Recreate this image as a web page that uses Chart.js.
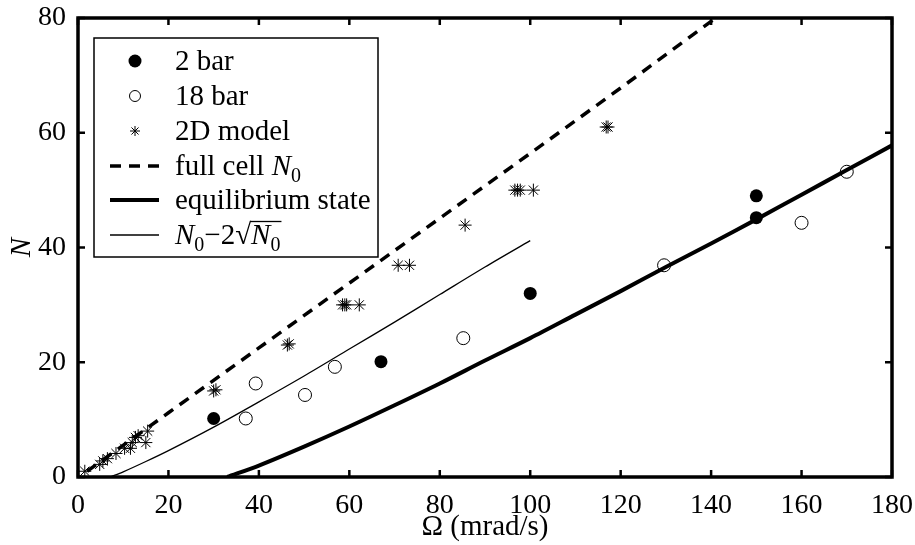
<!DOCTYPE html>
<html>
<head>
<meta charset="utf-8">
<script src="https://cdn.jsdelivr.net/npm/chart.js@4.4.1/dist/chart.umd.min.js"></script>
<style>
  html, body { margin: 0; padding: 0; background: #fff; }
  #wrap { width: 915px; height: 545px; }
</style>
</head>
<body>
<div id="wrap"><canvas id="c" width="915" height="545"></canvas></div>
<script>
// ---- data ----
const xTicks = [0, 20, 40, 60, 80, 100, 120, 140, 160, 180];
const yTicks = [0, 20, 40, 60, 80];

const bar2X = [30, 67, 100, 150, 150];
const bar2Y = [10.2, 20.1, 32.0, 49.0, 45.2];

const bar18X = [37.1, 39.3, 50.2, 56.8, 85.2, 129.6, 160, 170];
const bar18Y = [10.2, 16.3, 14.3, 19.2, 24.2, 36.9, 44.3, 53.2];

const model2dX = [1.5, 4.8, 5.5, 6.5, 8.4, 10.3, 11.6, 12.0, 12.7, 13.3, 15.0, 15.4,
                  30.0, 30.5, 46.3, 46.7, 58.5, 59.0, 59.4, 62.2, 70.8, 73.3, 85.6,
                  96.6, 97.2, 97.8, 100.7, 116.8, 117.2];
const model2dY = [1.0, 2.2, 2.8, 3.2, 4.1, 5.0, 5.0, 6.0, 6.9, 7.2, 6.0, 8.0,
                  15.0, 15.2, 23.0, 23.2, 30.0, 30.0, 30.0, 30.0, 36.9, 36.9, 43.9,
                  50.0, 50.0, 50.0, 50.0, 61.0, 61.0];

const fullCellX = [2, 20, 40, 60, 80, 100, 120, 141];
const fullCellY = [1.0, 11.2, 22.5, 33.8, 45.1, 56.4, 67.8, 80];

const eqX = [33, 40, 50, 60, 70, 80, 90, 100, 110, 120, 130, 140, 150, 160, 170, 180];
const eqY = [0, 2.0, 5.3, 8.8, 12.5, 16.3, 20.3, 24.2, 28.3, 32.4, 36.6, 40.7, 44.9, 49.2, 53.5, 57.8];

const thinX = [7.1, 10, 15, 20, 30, 40, 50, 60, 70, 80, 90, 100];
const thinY = [0, 0.9, 2.7, 4.6, 8.7, 13.1, 17.6, 22.3, 27.0, 31.8, 36.6, 41.2];

const pts = (xs, ys) => xs.map((x, i) => ({x: x, y: ys[i]}));

const SERIF = '"Liberation Serif", "Times New Roman", serif';
const FS = 28;   // tick labels
const LFS = 29;  // legend + titles

// frame with inward ticks on all four sides
const framePlugin = {
  id: 'frame',
  afterDatasetsDraw(chart) {
    const {ctx, chartArea: a, scales: {x, y}} = chart;
    ctx.save();
    ctx.strokeStyle = '#000';
    ctx.lineWidth = 2.5;
    ctx.lineCap = 'butt';
    const tl = 7;
    ctx.beginPath();
    xTicks.forEach(v => {
      const px = x.getPixelForValue(v);
      ctx.moveTo(px, a.bottom); ctx.lineTo(px, a.bottom - tl);
      ctx.moveTo(px, a.top); ctx.lineTo(px, a.top + tl);
    });
    yTicks.forEach(v => {
      const py = y.getPixelForValue(v);
      ctx.moveTo(a.left, py); ctx.lineTo(a.left + tl, py);
      ctx.moveTo(a.right, py); ctx.lineTo(a.right - tl, py);
    });
    ctx.stroke();
    ctx.lineWidth = 3.5;
    ctx.strokeRect(a.left, a.top, a.right - a.left, a.bottom - a.top);
    ctx.restore();
  }
};

// legend box drawn inside the plot
const legendPlugin = {
  id: 'boxLegend',
  afterDraw(chart) {
    const ctx = chart.ctx;
    const L = 94, T = 38, R = 378, B = 257;
    ctx.save();
    ctx.fillStyle = '#fff';
    ctx.fillRect(L, T, R - L, B - T);
    ctx.strokeStyle = '#000';
    ctx.lineWidth = 1.5;
    ctx.strokeRect(L, T, R - L, B - T);

    const sx0 = 110, sx1 = 159, sc = 135, tx = 175;
    const rows = [61, 96, 131, 166, 200, 235];
    const reg = LFS + 'px ' + SERIF;
    const ita = 'italic ' + LFS + 'px ' + SERIF;
    const sub = '20px ' + SERIF;
    const subDy = 7;

    function drawRich(parts, x, baseY) {
      let cx = x;
      parts.forEach(p => {
        if (p.sqrt) {
          ctx.font = reg;
          ctx.fillText('\u221A', cx, baseY);
          cx += ctx.measureText('\u221A').width;
          const startX = cx;
          ctx.font = ita;
          ctx.fillText('N', cx, baseY);
          cx += ctx.measureText('N').width;
          ctx.font = sub;
          ctx.fillText('0', cx, baseY + subDy);
          cx += ctx.measureText('0').width;
          ctx.save();
          ctx.lineWidth = 1.3;
          ctx.beginPath();
          ctx.moveTo(startX - 1, baseY - 22.5);
          ctx.lineTo(cx + 1, baseY - 22.5);
          ctx.stroke();
          ctx.restore();
          return;
        }
        ctx.font = p.i ? ita : (p.s ? sub : reg);
        ctx.fillText(p.t, cx, baseY + (p.s ? subDy : 0));
        cx += ctx.measureText(p.t).width;
      });
    }

    ctx.fillStyle = '#000';
    ctx.textBaseline = 'alphabetic';
    ctx.textAlign = 'left';

    // 2 bar
    ctx.beginPath(); ctx.arc(sc, rows[0], 6.5, 0, Math.PI * 2); ctx.fill();
    // 18 bar
    ctx.lineWidth = 1;
    ctx.beginPath(); ctx.arc(sc, rows[1], 5.5, 0, Math.PI * 2); ctx.stroke();
    // 2D model star
    ctx.beginPath();
    const r = 5;
    for (let k = 0; k < 4; k++) {
      const ang = k * Math.PI / 4;
      ctx.moveTo(sc - r * Math.cos(ang), rows[2] - r * Math.sin(ang));
      ctx.lineTo(sc + r * Math.cos(ang), rows[2] + r * Math.sin(ang));
    }
    ctx.stroke();
    // dashed
    ctx.lineWidth = 3.5;
    ctx.setLineDash([11, 8]);
    ctx.beginPath(); ctx.moveTo(sx0, rows[3]); ctx.lineTo(sx1 + 4, rows[3]); ctx.stroke();
    ctx.setLineDash([]);
    // thick
    ctx.lineWidth = 4;
    ctx.beginPath(); ctx.moveTo(sx0, rows[4]); ctx.lineTo(sx1, rows[4]); ctx.stroke();
    // thin
    ctx.lineWidth = 1.3;
    ctx.beginPath(); ctx.moveTo(sx0, rows[5]); ctx.lineTo(sx1, rows[5]); ctx.stroke();

    const off = 9;
    drawRich([{t: '2 bar'}], tx, rows[0] + off);
    drawRich([{t: '18 bar'}], tx, rows[1] + off);
    drawRich([{t: '2D model'}], tx, rows[2] + off);
    drawRich([{t: 'full cell '}, {t: 'N', i: true}, {t: '0', s: true}], tx, rows[3] + off);
    drawRich([{t: 'equilibrium state'}], tx, rows[4] + off);
    drawRich([{t: 'N', i: true}, {t: '0', s: true}, {t: '\u22122'}, {sqrt: true}], tx, rows[5] + off);
    ctx.restore();
  }
};

new Chart(document.getElementById('c'), {
  type: 'scatter',
  data: {
    datasets: [
      { label: 'full cell N0', data: pts(fullCellX, fullCellY), showLine: true,
        borderColor: '#000', borderWidth: 3.5, borderDash: [11, 8], pointRadius: 0, fill: false },
      { label: 'equilibrium state', data: pts(eqX, eqY), showLine: true,
        borderColor: '#000', borderWidth: 4, pointRadius: 0, fill: false, tension: 0.3 },
      { label: 'N0-2sqrt(N0)', data: pts(thinX, thinY), showLine: true,
        borderColor: '#000', borderWidth: 1.3, pointRadius: 0, fill: false, tension: 0.3 },
      { label: '2 bar', data: pts(bar2X, bar2Y), showLine: false,
        pointStyle: 'circle', pointRadius: 6.5, backgroundColor: '#000', borderColor: '#000', borderWidth: 0 },
      { label: '18 bar', data: pts(bar18X, bar18Y), showLine: false,
        pointStyle: 'circle', pointRadius: 6.5, backgroundColor: 'rgba(0,0,0,0)', borderColor: '#000', borderWidth: 1 },
      { label: '2D model', data: pts(model2dX, model2dY), showLine: false,
        pointStyle: 'star', pointRadius: 6.5, backgroundColor: '#000', borderColor: '#000', borderWidth: 1 }
    ]
  },
  options: {
    responsive: false,
    animation: false,
    devicePixelRatio: 1,
    layout: { padding: { top: 18, right: 23, left: 0, bottom: 0 } },
    plugins: { legend: { display: false }, tooltip: { enabled: false } },
    scales: {
      x: {
        type: 'linear', min: 0, max: 180,
        afterBuildTicks: s => { s.ticks = xTicks.map(v => ({value: v})); },
        afterFit: s => { s.height = 68; s.paddingLeft = 0; s.paddingRight = 0; },
        grid: { display: false }, border: { display: false },
        ticks: { color: '#000', font: { family: SERIF, size: FS }, padding: 4, autoSkip: false, maxRotation: 0 },
        title: { display: true, text: '\u03A9 (mrad/s)', color: '#000',
                 font: { family: SERIF, size: LFS }, padding: { top: 0, bottom: 0 } }
      },
      y: {
        type: 'linear', min: 0, max: 80,
        afterBuildTicks: s => { s.ticks = yTicks.map(v => ({value: v})); },
        afterFit: s => { s.width = 78; s.paddingTop = 0; s.paddingBottom = 0; },
        grid: { display: false }, border: { display: false },
        ticks: { color: '#000', font: { family: SERIF, size: FS }, padding: 4 },
        title: { display: true, text: 'N', color: '#000',
                 font: { family: SERIF, size: LFS, style: 'italic' }, padding: { top: 5, bottom: 0 } }
      }
    }
  },
  plugins: [framePlugin, legendPlugin]
});
</script>
</body>
</html>
